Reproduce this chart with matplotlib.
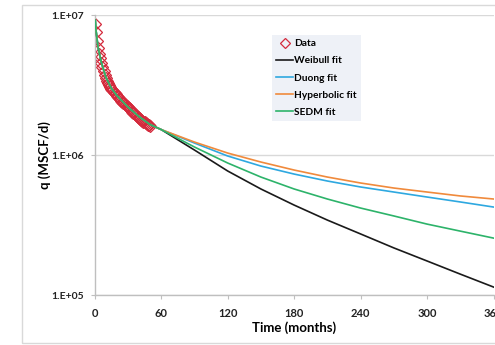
"""Production decline: observed rate vs. four decline-curve fits."""

import matplotlib.pyplot as plt
from matplotlib.patches import Rectangle

# --- Observed monthly gas rate (MSCF/d) ---
data_t = list(range(0, 51))
data_q = [
    8.6e6, 7.6e6, 6.5e6, 5.8e6, 5.3e6, 4.9e6, 4.55e6, 4.25e6, 4.0e6, 3.75e6,
    3.55e6, 3.4e6, 3.27e6, 3.15e6, 3.05e6, 2.97e6, 2.9e6, 2.83e6, 2.77e6, 2.71e6,
    2.65e6, 2.6e6, 2.55e6, 2.5e6, 2.45e6, 2.4e6, 2.36e6, 2.32e6, 2.28e6, 2.24e6,
    2.2e6, 2.16e6, 2.12e6, 2.08e6, 2.04e6, 2.0e6, 1.96e6, 1.93e6, 1.9e6, 1.87e6,
    1.84e6, 1.81e6, 1.78e6, 1.76e6, 1.73e6, 1.71e6, 1.69e6, 1.67e6, 1.65e6, 1.63e6,
    1.61e6,
]

# --- Fitted curves, sampled on a common time grid (months) ---
fit_t = [0.5, 1, 3, 6, 10, 15, 20, 30, 40, 50, 60,
         90, 120, 150, 180, 210, 240, 270, 300, 330, 360]
early_q = [9.2e6, 8.0e6, 5.9e6, 4.6e6, 3.6e6, 3.0e6, 2.66e6, 2.2e6, 1.88e6, 1.65e6]
weibull_q = early_q + [1.52e6, 1.086e6, 7.69e5, 5.72e5, 4.39e5, 3.43e5,
                       2.73e5, 2.17e5, 1.75e5, 1.41e5, 1.14e5]
duong_q = early_q + [1.52e6, 1.218e6, 9.84e5, 8.34e5, 7.31e5, 6.52e5,
                     5.91e5, 5.44e5, 5.01e5, 4.62e5, 4.25e5]
hyperbolic_q = early_q + [1.52e6, 1.238e6, 1.033e6, 8.91e5, 7.81e5, 6.96e5,
                          6.31e5, 5.81e5, 5.44e5, 5.10e5, 4.85e5]
sedm_q = early_q + [1.52e6, 1.141e6, 8.77e5, 6.96e5, 5.72e5, 4.85e5,
                    4.18e5, 3.67e5, 3.21e5, 2.86e5, 2.55e5]

x_ticks = [0, 60, 120, 180, 240, 300, 360]
y_ticks = [1e5, 1e6, 1e7]
y_tick_labels = ["1.E+05", "1.E+06", "1.E+07"]

FONT = "Lato"
GRID_GREY = "#D9D9D9"
AXIS_GREY = "#BFBFBF"

fig = plt.figure(figsize=(4.95, 3.45), dpi=100)
fig.patch.set_facecolor("white")

# Light border around the whole chart area
fig.patches.append(Rectangle((0.045, 0.006), 1.2, 0.979, transform=fig.transFigure,
                             fill=False, edgecolor=GRID_GREY, linewidth=1.0))

ax = fig.add_axes([0.1913, 0.1449, 0.8057, 0.8116])

ax.plot(data_t, data_q, linestyle="none", marker="D", markersize=6,
        markerfacecolor="none", markeredgecolor="#D42A3C", markeredgewidth=0.9,
        label="Data", zorder=2)
ax.plot(fit_t, weibull_q, color="#1A1A1A", lw=1.2, label="Weibull fit", zorder=3)
ax.plot(fit_t, duong_q, color="#2EA8E0", lw=1.2, label="Duong fit", zorder=3)
ax.plot(fit_t, hyperbolic_q, color="#F08A3C", lw=1.2, label="Hyperbolic fit", zorder=3)
ax.plot(fit_t, sedm_q, color="#2DB36A", lw=1.2, label="SEDM fit", zorder=3)

ax.set_yscale("log")
ax.set_xlim(0, 360)
ax.set_ylim(1e5, 1e7)
ax.set_xticks(x_ticks)
ax.set_yticks(y_ticks)
ax.set_yticklabels(y_tick_labels)
ax.minorticks_off()

for lbl in ax.get_xticklabels() + ax.get_yticklabels():
    lbl.set_fontfamily(FONT)
    lbl.set_fontweight("bold")
for lbl in ax.get_xticklabels():
    lbl.set_fontsize(8)
for lbl in ax.get_yticklabels():
    lbl.set_fontsize(7.5)

ax.tick_params(axis="both", direction="out", length=3, width=0.8,
               color=AXIS_GREY, labelcolor="#222222")
ax.tick_params(axis="x", pad=6)
ax.tick_params(axis="y", pad=5)

ax.yaxis.grid(True, color=GRID_GREY, linewidth=1.0)
ax.set_axisbelow(True)
for side in ("top", "right"):
    ax.spines[side].set_visible(False)
for side in ("left", "bottom"):
    ax.spines[side].set_color(AXIS_GREY)
    ax.spines[side].set_linewidth(1.0)

ax.set_xlabel("Time (months)", fontfamily=FONT, fontweight="bold",
              fontsize=9.5, va="center")
ax.xaxis.set_label_coords(0.5, -0.118)
ax.set_ylabel("q (MSCF/d)", fontfamily=FONT, fontweight="bold",
              fontsize=9.5, va="center")
ax.yaxis.set_label_coords(-0.125, 0.5)

leg = ax.legend(loc="upper left", bbox_to_anchor=(272 / 495, 1 - 35 / 345),
                bbox_transform=fig.transFigure, borderaxespad=0,
                prop={"family": FONT, "weight": "bold", "size": 7.3},
                frameon=True, fancybox=False, facecolor="#EEF1F7",
                edgecolor="none", framealpha=1.0, handlelength=1.7,
                handletextpad=0.1, labelspacing=0.8, borderpad=0.4)
leg.legend_handles[0].set_markersize(5)

fig.savefig("out.png", dpi=100)
